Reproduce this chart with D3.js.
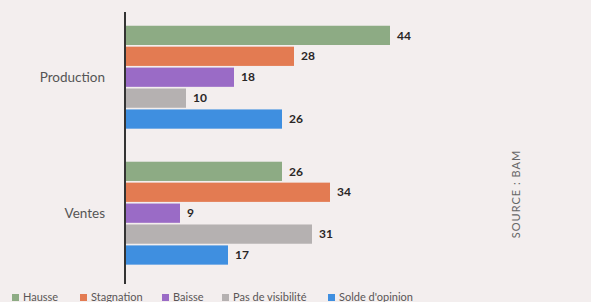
<!DOCTYPE html>
<html><head><meta charset="utf-8">
<script src="https://cdn.jsdelivr.net/npm/d3@7"></script>
<style>
html,body{margin:0;padding:0;background:#f3eeee;}
svg{display:block;}
</style></head>
<body>
<svg id="chart" width="591" height="302"></svg>
<script>
const groups = ["Production", "Ventes"];
const series = ["Hausse", "Stagnation", "Baisse", "Pas de visibilité", "Solde d'opinion"];
const production = [44, 28, 18, 10, 26];
const ventes = [26, 34, 9, 31, 17];
const colors = ["#8dab84", "#e37b52", "#9a6bc6", "#b5b1b1", "#3f8fe0"];
const source = "SOURCE : BAM";

const values = {Production: production, Ventes: ventes};
const svg = d3.select("#chart");
const font = "Lato, 'DejaVu Sans', sans-serif";

const x = d3.scaleLinear().domain([0, 50]).range([126, 426]);
const y0 = d3.scaleBand().domain(groups).range([11.2, 279.2]).paddingInner(0.243).paddingOuter(0.107);
const y1 = d3.scaleBand().domain(series).range([0, y0.bandwidth()]).paddingInner(0.08).paddingOuter(0);
const color = d3.scaleOrdinal().domain(series).range(colors);

const g = svg.selectAll("g.grp").data(groups).join("g")
  .attr("class", "grp")
  .attr("transform", d => `translate(0,${y0(d)})`);

g.selectAll("rect").data(d => series.map((s, i) => ({s, v: values[d][i]}))).join("rect")
  .attr("x", x(0))
  .attr("y", d => y1(d.s))
  .attr("width", d => x(d.v) - x(0))
  .attr("height", y1.bandwidth())
  .attr("fill", d => color(d.s));

g.selectAll("text.val").data(d => series.map((s, i) => ({s, v: values[d][i]}))).join("text")
  .attr("class", "val")
  .attr("x", d => x(d.v) + 7)
  .attr("y", d => y1(d.s) + y1.bandwidth() / 2)
  .attr("dy", "0.35em")
  .attr("font-family", font)
  .attr("font-weight", "bold")
  .attr("font-size", 12)
  .attr("fill", "#2a2626")
  .text(d => d.v);

// axis (category labels)
const axis = d3.axisLeft(y0).tickSize(0).tickPadding(20);
const ax = svg.append("g").attr("transform", `translate(${x(0) - 1},0)`).call(axis);
ax.select(".domain").attr("d", "M0,12V284").attr("stroke", "#333").attr("stroke-width", 2);
ax.selectAll("text").attr("font-family", font).attr("font-size", 13.5).attr("fill", "#555");

// legend
const legendX = [12, 80, 162, 222, 328];
const leg = svg.append("g").selectAll("g").data(series).join("g")
  .attr("transform", (d, i) => `translate(${legendX[i]},294)`);
leg.append("rect").attr("width", 7).attr("height", 7).attr("fill", d => color(d));
leg.append("text").attr("x", 11).attr("y", 3.5).attr("dy", "0.35em")
  .attr("font-family", font).attr("font-size", 11).attr("fill", "#5a5656")
  .text(d => d);

// source
svg.append("text")
  .attr("transform", "translate(520,194) rotate(-90)")
  .attr("text-anchor", "middle")
  .attr("font-family", font).attr("font-size", 11).attr("letter-spacing", 1)
  .attr("fill", "#666")
  .text(source);
</script>
</body></html>
